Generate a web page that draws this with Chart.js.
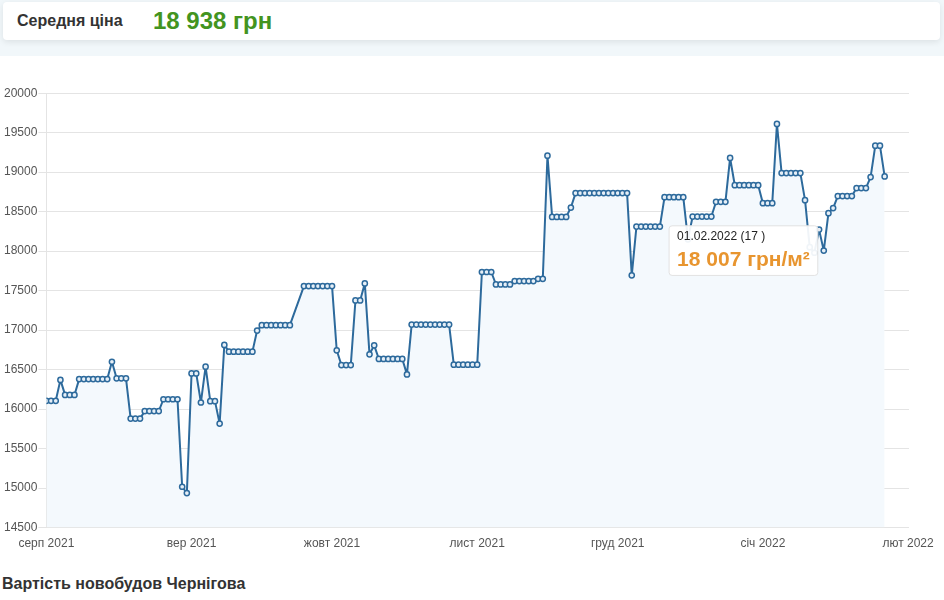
<!DOCTYPE html>
<html lang="uk">
<head>
<meta charset="UTF-8">
<title>Вартість новобудов Чернігова</title>
<script src="https://cdn.jsdelivr.net/npm/chart.js"></script>
<style>
    body { margin: 0; width: 944px; height: 600px; background: #fff; font-family: "Liberation Sans", Arial, sans-serif; position: relative; overflow: hidden; }
    .band { position: absolute; left: 0; top: 0; width: 944px; height: 56px; background: #f1f7fa; }
    .card { position: absolute; left: 3px; top: 2px; width: 937px; height: 38px; background: #fff; border-radius: 4px; box-shadow: 0 2px 6px rgba(0,0,0,0.09); }
    .card .lbl { position: absolute; left: 14px; top: 10px; font-size: 16px; font-weight: bold; color: #333; }
    .card .val { position: absolute; left: 150px; top: 5px; font-size: 24px; font-weight: bold; color: #43941f; }
    .chart-box { position: absolute; left: 0; top: 85px; width: 944px; height: 467px; }
    h2 { position: absolute; left: 2px; top: 575px; margin: 0; font-size: 16px; font-weight: bold; color: #333; }
</style>
</head>
<body>
    <div class="band"></div>
    <div class="card">
        <span class="lbl">Середня ціна</span>
        <span class="val">18 938 грн</span>
    </div>

    <div class="chart-box">
        <canvas id="priceChart"></canvas>
    </div>

    <h2>Вартість новобудов Чернігова</h2>

    <script>
        // days counted from 1 Aug 2021
        const days = [
            0, 1, 2, 3, 4, 5, 6, 7, 8, 9, 10, 11, 12, 13, 14, 15, 16, 17, 18, 19,
            20, 21, 22, 23, 24, 25, 26, 27, 28, 29, 30, 31, 32, 33, 34, 35, 36, 37, 38, 39,
            40, 41, 42, 43, 44, 45, 46, 47, 48, 49, 50, 51, 52,
            55, 56, 57, 58, 59, 60, 61, 62, 63, 64, 65, 66, 67, 68, 69,
            70, 71, 72, 73, 74, 75, 76, 77, 78, 79, 80, 81, 82, 83, 84, 85, 86, 87, 88, 89,
            90, 91, 92, 93, 94, 95, 96, 97, 98, 99, 100, 101, 102, 103, 104, 105, 106, 107, 108, 109,
            110, 111, 112, 113, 114, 115, 116, 117, 118, 119, 120, 121, 122, 123, 124, 125, 126, 127, 128, 129,
            130, 131, 132, 133, 134, 135, 136, 137, 138, 139, 140, 141, 142, 143, 144, 145, 146, 147, 148, 149,
            150, 151, 152, 153, 154, 155, 156, 157, 158, 159, 160, 161, 162, 163, 164, 165, 166, 167, 168, 169,
            170, 171, 172, 173, 174, 175, 176, 177, 178, 179
        ];
        const prices = [
            16105, 16105, 16105, 16370, 16180, 16180, 16180, 16380, 16380, 16380, 16380, 16380, 16380, 16380, 16600, 16390, 16390, 16390, 15880, 15880,
            15880, 15975, 15975, 15975, 15975, 16125, 16125, 16125, 16125, 15017, 14937, 16452, 16452, 16084, 16537, 16101, 16101, 15817, 16813, 16728,
            16728, 16728, 16728, 16728, 16728, 16995, 17063, 17063, 17063, 17063, 17063, 17063, 17063,
            17558, 17558, 17558, 17558, 17558, 17558, 17558, 16745, 16558, 16558, 16558, 17376, 17376, 17592, 16694,
            16808, 16635, 16635, 16635, 16635, 16635, 16635, 16440, 17071, 17071, 17071, 17071, 17071, 17071, 17071, 17071, 17071, 16563, 16563, 16563,
            16563, 16563, 16563, 17736, 17736, 17736, 17579, 17579, 17579, 17579, 17621, 17621, 17621, 17621, 17621, 17650, 17650, 19209, 18434, 18434,
            18434, 18434, 18552, 18735, 18735, 18735, 18735, 18735, 18735, 18735, 18735, 18735, 18735, 18735, 18735, 17694, 18311, 18311, 18311, 18311,
            18311, 18311, 18684, 18684, 18684, 18684, 18684, 18150, 18438, 18438, 18438, 18438, 18438, 18625, 18625, 18625, 19180, 18835, 18835, 18835,
            18835, 18835, 18835, 18608, 18608, 18608, 19611, 18989, 18989, 18989, 18989, 18989, 18646, 18050, 17980, 18273, 18007, 18481, 18545, 18697,
            18697, 18697, 18697, 18799, 18799, 18799, 18938, 19336, 19336, 18946
        ];

        const monthDays = [0, 31, 61, 92, 122, 153, 184];
        const monthLabels = ['серп 2021', 'вер 2021', 'жовт 2021', 'лист 2021', 'груд 2021', 'січ 2022', 'лют 2022'];

        const tipDay = 166;
        const tipTitle = '01.02.2022 (17 )';

        function fmt(v) {
            return String(Math.round(v)).replace(/\B(?=(\d{3})+(?!\d))/g, ' ');
        }

        Chart.defaults.font.family = '"Liberation Sans", Arial, sans-serif';
        Chart.defaults.font.size = 12;
        Chart.defaults.color = '#666';

        const ctx = document.getElementById('priceChart').getContext('2d');
        const priceChart = new Chart(ctx, {
            type: 'line',
            data: {
                datasets: [{
                    data: days.map((d, i) => ({ x: d, y: prices[i] })),
                    borderColor: '#2d6a9c',
                    borderWidth: 2,
                    borderJoinStyle: 'round',
                    backgroundColor: '#f4f9fd',
                    fill: 'start',
                    tension: 0,
                    pointRadius: 2.6,
                    pointBorderWidth: 1.5,
                    pointBorderColor: '#2d6a9c',
                    pointBackgroundColor: '#e6eff7',
                    pointHoverRadius: 2.6
                }]
            },
            options: {
                responsive: true,
                maintainAspectRatio: false,
                animation: false,
                layout: { padding: { left: 3, right: 35, top: 8, bottom: 0 } },
                interaction: { mode: 'nearest', intersect: false },
                scales: {
                    x: {
                        type: 'linear',
                        min: 0,
                        max: 184.2,
                        grid: { display: false },
                        border: { display: false },
                        afterBuildTicks: scale => { scale.ticks = monthDays.map(v => ({ value: v })); },
                        ticks: {
                            padding: 1,
                            maxRotation: 0,
                            autoSkip: false,
                            color: '#555',
                            callback: value => monthLabels[monthDays.indexOf(value)]
                        }
                    },
                    y: {
                        min: 14500,
                        max: 20000,
                        grid: { color: '#e4e4e4', tickLength: 8 },
                        border: { display: true, color: '#e4e4e4' },
                        ticks: { stepSize: 500, padding: 1, color: '#555', callback: v => String(v) }
                    }
                },
                plugins: {
                    legend: { display: false },
                    tooltip: {
                        backgroundColor: 'rgba(255,255,255,0.93)',
                        borderColor: '#e2e2e2',
                        borderWidth: 1,
                        cornerRadius: 3,
                        caretSize: 0,
                        caretPadding: 6,
                        xAlign: 'right',
                        yAlign: 'center',
                        displayColors: false,
                        padding: { left: 8, right: 8, top: 4, bottom: 3 },
                        titleColor: '#222',
                        titleFont: { size: 12, weight: 'normal' },
                        titleMarginBottom: 3,
                        bodyColor: '#e8952f',
                        bodyFont: { size: 21, weight: 'bold' },
                        callbacks: {
                            title: () => tipTitle,
                            label: c => fmt(c.parsed.y) + ' грн/м²'
                        }
                    }
                }
            }
        });

        const tipIndex = days.indexOf(tipDay);
        priceChart.tooltip.setActiveElements([{ datasetIndex: 0, index: tipIndex }], { x: 0, y: 0 });
        priceChart.update();
    </script>
</body>
</html>
